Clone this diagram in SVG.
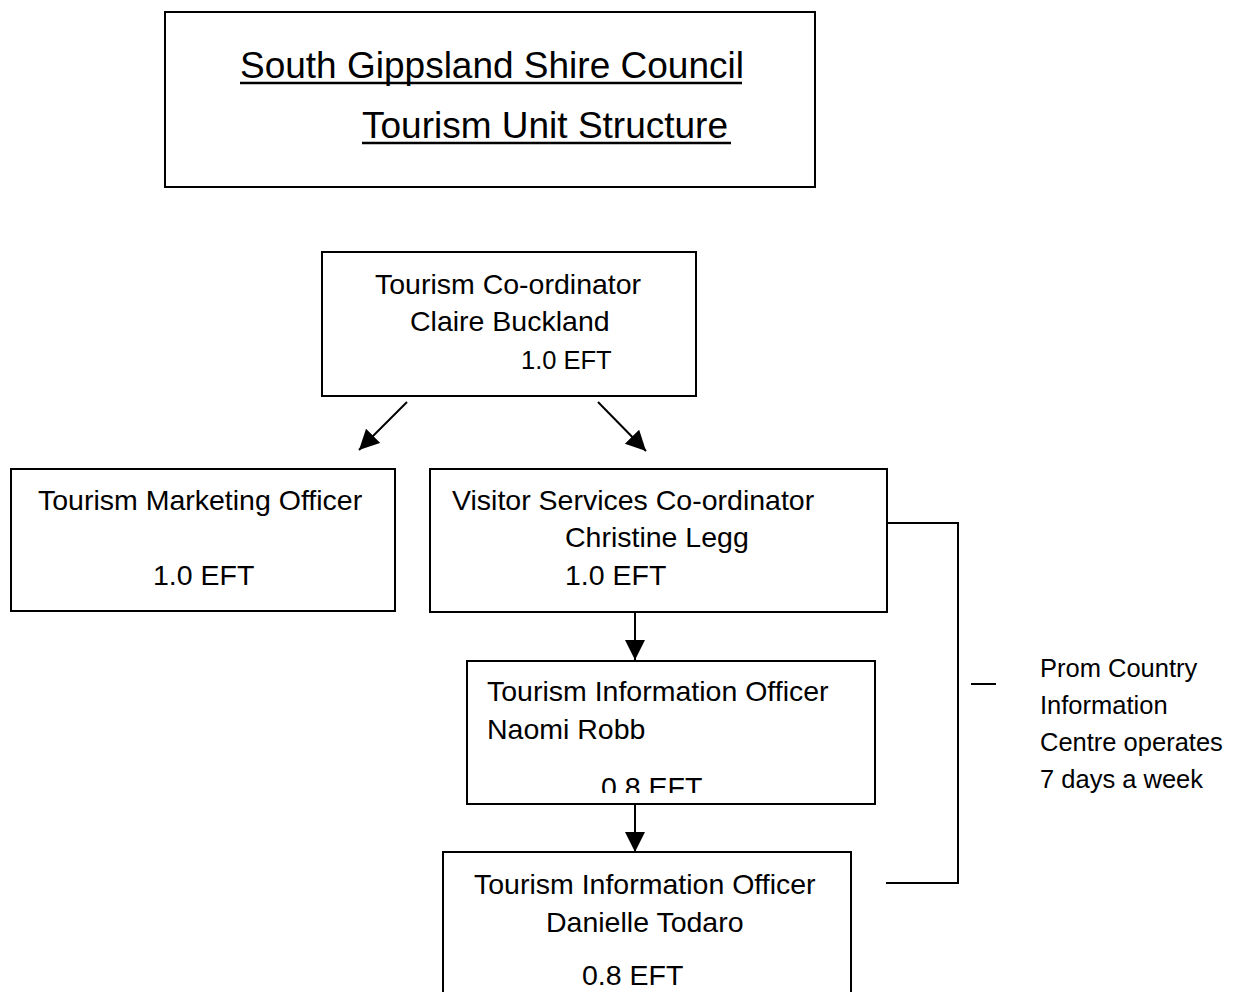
<svg xmlns="http://www.w3.org/2000/svg" width="1241" height="992" viewBox="0 0 1241 992">
<style>
.box{fill:#fff;stroke:#000;stroke-width:2}
.t{font-family:"Liberation Sans",Arial,sans-serif;font-size:28.5px;fill:#000}
.s{font-size:25.5px}
.title{font-family:"Liberation Sans",Arial,sans-serif;font-size:37px;fill:#000}
.ul{stroke:#000;stroke-width:2.6}
.c{fill:none;stroke:#000;stroke-width:2}
</style>
<defs>
<marker id="ah" markerUnits="userSpaceOnUse" markerWidth="22" markerHeight="22" refX="20" refY="10" orient="auto">
<path d="M0,0 L20,10 L0,20 z" fill="#000"/>
</marker>
<clipPath id="clipN"><rect x="467" y="661" width="408" height="132"/></clipPath>
</defs>
<rect width="1241" height="992" fill="#fff"/>
<g id="title">
<rect class="box" x="165" y="12" width="650" height="175"/>
<text class="title" x="240" y="78">South Gippsland Shire Council</text>
<line class="ul" x1="240" y1="83" x2="742" y2="83"/>
<text class="title" x="362" y="138">Tourism Unit Structure</text>
<line class="ul" x1="362" y1="143" x2="731" y2="143"/>
</g>
<g id="connectors">
<line class="c" x1="407" y1="402" x2="359" y2="450" marker-end="url(#ah)"/>
<line class="c" x1="598" y1="402" x2="646" y2="451" marker-end="url(#ah)"/>
<line class="c" x1="635" y1="612" x2="635" y2="660" marker-end="url(#ah)"/>
<line class="c" x1="635" y1="804" x2="635" y2="852" marker-end="url(#ah)"/>
<polyline class="c" points="887,523 958,523 958,883 886,883"/>
<line class="c" x1="971" y1="684" x2="996" y2="684"/>
</g>
<g id="coordinator">
<rect class="box" x="322" y="252" width="374" height="144"/>
<text class="t" x="375" y="294">Tourism Co-ordinator</text>
<text class="t" x="410" y="331">Claire Buckland</text>
<text class="t s" x="521" y="369">1.0 EFT</text>
</g>
<g id="marketing">
<rect class="box" x="11" y="469" width="384" height="142"/>
<text class="t" x="38" y="510">Tourism Marketing Officer</text>
<text class="t" x="153" y="585">1.0 EFT</text>
</g>
<g id="visitor">
<rect class="box" x="430" y="469" width="457" height="143"/>
<text class="t" x="452" y="510">Visitor Services Co-ordinator</text>
<text class="t" x="565" y="547">Christine Legg</text>
<text class="t" x="565" y="585">1.0 EFT</text>
</g>
<g id="naomi">
<rect class="box" x="467" y="661" width="408" height="143"/>
<text class="t" x="487" y="701">Tourism Information Officer</text>
<text class="t" x="487" y="739">Naomi Robb</text>
<text class="t" x="601" y="797" clip-path="url(#clipN)">0.8 EFT</text>
</g>
<g id="danielle">
<rect class="box" x="443" y="852" width="408" height="160"/>
<text class="t" x="474" y="894">Tourism Information Officer</text>
<text class="t" x="546" y="932">Danielle Todaro</text>
<text class="t" x="582" y="985">0.8 EFT</text>
</g>
<g id="note">
<text class="t s" x="1040" y="677">Prom Country</text>
<text class="t s" x="1040" y="714">Information</text>
<text class="t s" x="1040" y="751">Centre operates</text>
<text class="t s" x="1040" y="788">7 days a week</text>
</g>
</svg>
